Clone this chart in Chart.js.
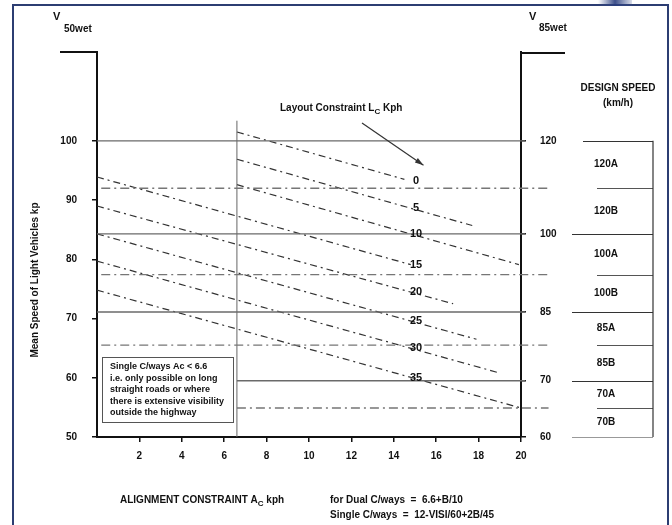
<!DOCTYPE html>
<html>
<head>
<meta charset="utf-8">
<script src="https://cdn.jsdelivr.net/npm/chart.js@4"></script>
<style>
html, body { margin: 0; padding: 0; background: #fff; }
#wrap { position: relative; width: 672px; height: 525px; }
</style>
</head>
<body>
<div id="wrap"><canvas id="myChart" width="672" height="525"></canvas></div>
<script>
// layout constraint Lc (kph): dashed V50wet lines
const lcLabels = [0, 5, 10, 15, 20, 25, 30, 35];
const lcStartX = [6.6, 6.6, 6.6, 0, 0, 0, 0, 0];
const lcStartV = [101.5, 96.9, 92.6, 93.9, 89.0, 84.3, 79.7, 74.8];
const lcEndX = [14.5, 17.7, 19.9, 14.8, 16.8, 17.9, 19.0, 20];
const lcEndV = [93.5, 85.7, 79.1, 79.1, 72.5, 66.5, 60.8, 54.9];

// V85 design speed steps and the V50 value they sit at
const v85Ticks = [120, 100, 85, 70, 60];
const v85AtV50 = [100, 84.3, 71.1, 59.5, 50];
const bandSplits = [92, 77.4, 65.5, 54.9];
const designSpeeds = ['120A', '120B', '100A', '100B', '85A', '85B', '70A', '70B'];

const xTicks = [2, 4, 6, 8, 10, 12, 14, 16, 18, 20];
const yTicks = [50, 60, 70, 80, 90, 100];
const dualLimit = 6.6;
const lcLabelAt = 15;

const FONT = '"Liberation Sans", Arial, sans-serif';
const INK = '#111';

// datasets
const datasets = [];
v85AtV50.slice(0, 4).forEach(v => {
    const x0 = v < 60 ? dualLimit : 0;
    datasets.push({
        data: [{x: x0, y: v}, {x: 20.2, y: v}],
        borderColor: '#6a6a6a', borderWidth: 1.3, clip: false
    });
});
bandSplits.forEach(v => {
    const x0 = v < 60 ? dualLimit : 0.2;
    datasets.push({
        data: [{x: x0, y: v}, {x: 21.3, y: v}],
        borderColor: '#767676', borderWidth: 1.3, borderDash: [9, 4, 2, 4], clip: false
    });
});
datasets.push({
    data: [{x: dualLimit, y: 50}, {x: dualLimit, y: 103.4}],
    borderColor: '#666', borderWidth: 1, clip: false
});
lcLabels.forEach((lc, i) => {
    datasets.push({
        data: [{x: lcStartX[i], y: lcStartV[i]}, {x: lcEndX[i], y: lcEndV[i]}],
        borderColor: '#333', borderWidth: 1.2, borderDash: [7, 4, 2, 4]
    });
});
datasets.forEach(d => { d.showLine = true; d.pointRadius = 0; d.pointHoverRadius = 0; });

const decorations = {
    id: 'decorations',
    afterDatasetsDraw(chart) {
        const {ctx, chartArea: {top, bottom, left, right}, scales: {x, y}} = chart;
        ctx.save();

        // note box
        ctx.fillStyle = '#fff';
        ctx.fillRect(102, 357, 131, 65);
        ctx.strokeStyle = '#555';
        ctx.lineWidth = 1;
        ctx.strokeRect(102.5, 357.5, 131, 65);
        ctx.fillStyle = INK;
        ctx.font = 'bold 9px ' + FONT;
        ctx.textAlign = 'left';
        ctx.textBaseline = 'middle';
        ['Single C/ways Ac < 6.6', 'i.e. only possible on long', 'straight roads or where',
         'there is extensive visibility', 'outside the highway'].forEach((t, i) => {
            ctx.fillText(t, 110, 367 + i * 11.5);
        });

        // Lc labels
        ctx.font = 'bold 11px ' + FONT;
        ctx.textAlign = 'center';
        lcLabels.forEach((lc, i) => {
            const slope = (lcEndV[i] - lcStartV[i]) / (lcEndX[i] - lcStartX[i]);
            const v = lcStartV[i] + slope * (lcLabelAt - lcStartX[i]);
            ctx.fillText(String(lc), x.getPixelForValue(lcLabelAt) + 1, y.getPixelForValue(v) - 1);
        });

        // arrow
        const ax0 = x.getPixelForValue(12.5), ay0 = y.getPixelForValue(103.0);
        const ax1 = x.getPixelForValue(15.4), ay1 = y.getPixelForValue(95.9);
        ctx.strokeStyle = '#333';
        ctx.lineWidth = 1.2;
        ctx.beginPath();
        ctx.moveTo(ax0, ay0);
        ctx.lineTo(ax1, ay1);
        ctx.stroke();
        const ang = Math.atan2(ay1 - ay0, ax1 - ax0);
        ctx.fillStyle = '#333';
        ctx.beginPath();
        ctx.moveTo(ax1, ay1);
        ctx.lineTo(ax1 - 9 * Math.cos(ang - 0.3), ay1 - 9 * Math.sin(ang - 0.3));
        ctx.lineTo(ax1 - 9 * Math.cos(ang + 0.3), ay1 - 9 * Math.sin(ang + 0.3));
        ctx.closePath();
        ctx.fill();

        ctx.fillStyle = INK;
        ctx.font = 'bold 10px ' + FONT;
        ctx.textAlign = 'left';
        ctx.fillText('Layout Constraint L', 280, 108);
        let w = ctx.measureText('Layout Constraint L').width;
        ctx.font = 'bold 8px ' + FONT;
        ctx.fillText('C', 280 + w, 112);
        w += ctx.measureText('C').width;
        ctx.font = 'bold 10px ' + FONT;
        ctx.fillText(' Kph', 280 + w, 108);

        // brackets at the top of both axes
        ctx.strokeStyle = INK;
        ctx.lineWidth = 2;
        ctx.beginPath();
        ctx.moveTo(60, top);
        ctx.lineTo(left, top);
        ctx.moveTo(right, top + 1);
        ctx.lineTo(565, top + 1);
        ctx.stroke();

        // V labels
        ctx.fillStyle = INK;
        ctx.font = 'bold 11px ' + FONT;
        ctx.textAlign = 'left';
        ctx.fillText('V', 53, 17);
        ctx.fillText('V', 529, 17);
        ctx.font = 'bold 10px ' + FONT;
        ctx.fillText('50wet', 64, 29);
        ctx.fillText('85wet', 539, 28);

        // design speed table
        ctx.textAlign = 'center';
        ctx.font = 'bold 10px ' + FONT;
        ctx.fillText('DESIGN SPEED', 618, 88);
        ctx.fillText('(km/h)', 618, 103);

        const bounds = [100, 92, 84.3, 77.4, 71.1, 65.5, 59.5, 54.9, 50];
        ctx.lineWidth = 1.2;
        v85AtV50.forEach((v, i) => {
            const py = Math.round(y.getPixelForValue(v)) + 0.5;
            ctx.strokeStyle = i === v85AtV50.length - 1 ? '#999' : '#333';
            ctx.beginPath();
            ctx.moveTo(i === 0 ? 583 : 572, py);
            ctx.lineTo(653, py);
            ctx.stroke();
        });
        ctx.strokeStyle = '#555';
        bandSplits.forEach(v => {
            const py = Math.round(y.getPixelForValue(v)) + 0.5;
            ctx.beginPath();
            ctx.moveTo(597, py);
            ctx.lineTo(653, py);
            ctx.stroke();
        });
        ctx.strokeStyle = '#333';
        ctx.beginPath();
        ctx.moveTo(653, y.getPixelForValue(100));
        ctx.lineTo(653, y.getPixelForValue(50));
        ctx.stroke();

        ctx.fillStyle = INK;
        ctx.font = 'bold 10px ' + FONT;
        designSpeeds.forEach((d, i) => {
            const py = (y.getPixelForValue(bounds[i]) + y.getPixelForValue(bounds[i + 1])) / 2;
            ctx.fillText(d, 606, py);
        });

        // axis titles
        ctx.font = 'bold 10px ' + FONT;
        ctx.save();
        ctx.translate(35, 280);
        ctx.rotate(-Math.PI / 2);
        ctx.textAlign = 'center';
        ctx.fillText('Mean Speed of Light Vehicles kp', 0, 0);
        ctx.restore();

        ctx.textAlign = 'left';
        ctx.font = 'bold 10px ' + FONT;
        ctx.fillText('ALIGNMENT CONSTRAINT A', 120, 500);
        w = ctx.measureText('ALIGNMENT CONSTRAINT A').width;
        ctx.font = 'bold 8px ' + FONT;
        ctx.fillText('C', 120 + w, 504);
        w += ctx.measureText('C').width;
        ctx.font = 'bold 10px ' + FONT;
        ctx.fillText(' kph', 120 + w, 500);

        ctx.font = 'bold 10px ' + FONT;
        ctx.fillText('for Dual C/ways  =  6.6+B/10', 330, 500);
        ctx.fillText('Single C/ways  =  12-VISI/60+2B/45', 330, 515);

        // page frame
        ctx.strokeStyle = '#2c3d72';
        ctx.lineWidth = 2;
        ctx.strokeRect(13, 5, 655, 540);
        const g = ctx.createLinearGradient(598, 0, 632, 0);
        g.addColorStop(0, 'rgba(60,80,140,0)');
        g.addColorStop(0.5, 'rgba(40,60,125,0.9)');
        g.addColorStop(1, 'rgba(60,80,140,0.2)');
        ctx.fillStyle = g;
        ctx.fillRect(598, 0, 34, 6);
        ctx.restore();
    }
};

const config = {
    type: 'scatter',
    data: { datasets },
    options: {
        responsive: false,
        animation: false,
        layout: { padding: { top: 52, left: 0, right: 0, bottom: 0 } },
        plugins: { legend: { display: false }, tooltip: { enabled: false } },
        scales: {
            x: {
                type: 'linear', min: 0, max: 20,
                afterBuildTicks: s => { s.ticks = xTicks.map(v => ({value: v})); },
                afterFit: s => { s.height = 88; },
                grid: { drawOnChartArea: false, tickLength: 5, color: INK, lineWidth: 1.5 },
                border: { color: INK, width: 2 },
                ticks: { color: INK, padding: 8, font: { family: FONT, size: 10, weight: 'bold' } }
            },
            y: {
                position: 'left', min: 50, max: 115,
                afterBuildTicks: s => { s.ticks = yTicks.map(v => ({value: v})); },
                afterFit: s => { s.width = 97; },
                grid: { drawOnChartArea: false, tickLength: 5, color: INK, lineWidth: 1.5 },
                border: { color: INK, width: 2 },
                ticks: { color: INK, padding: 15, font: { family: FONT, size: 10, weight: 'bold' } }
            },
            y2: {
                position: 'right', min: 50, max: 115,
                afterBuildTicks: s => { s.ticks = v85AtV50.map(v => ({value: v})); },
                afterFit: s => { s.width = 151; },
                grid: { drawOnChartArea: false, tickLength: 5, color: INK, lineWidth: 1.5 },
                border: { color: INK, width: 2 },
                ticks: { color: INK, padding: 14, font: { family: FONT, size: 10, weight: 'bold' },
                         callback: (v, i) => v85Ticks[i] }
            }
        }
    },
    plugins: [decorations]
};

const myChart = new Chart(document.getElementById('myChart'), config);
</script>
</body>
</html>
